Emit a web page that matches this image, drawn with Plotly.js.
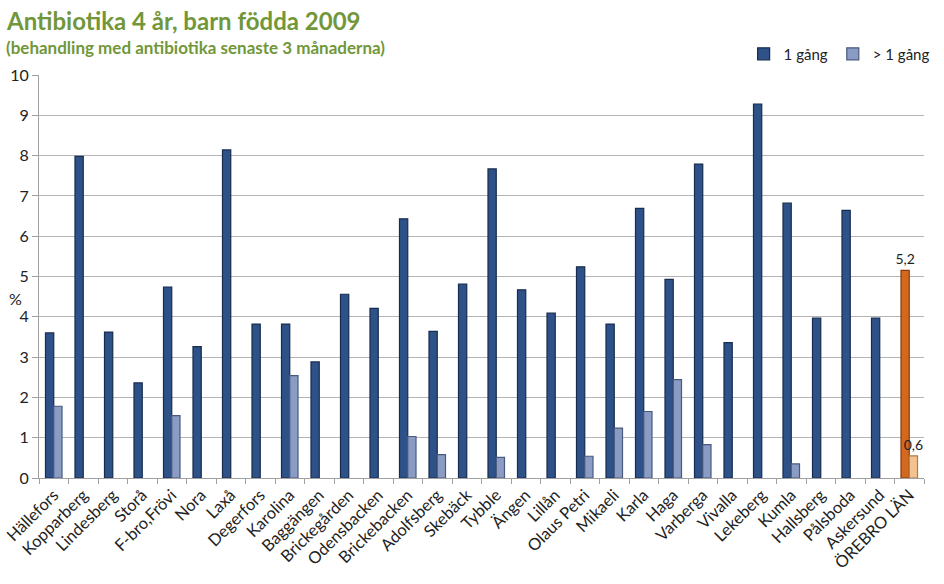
<!DOCTYPE html>
<html><head><meta charset="utf-8">
<script src="https://cdn.plot.ly/plotly-3.0.1.min.js"></script>
<style>html,body{margin:0;padding:0;background:#fff;}#chart{width:944px;height:584px;}</style>
</head><body><div id="chart"></div>
<script>
const categories = ["Hällefors","Kopparberg","Lindesberg","Storå","F-bro,Frövi","Nora","Laxå","Degerfors","Karolina","Baggängen","Brickegården","Odensbacken","Brickebacken","Adolfsberg","Skebäck","Tybble","Ängen","Lillån","Olaus Petri","Mikaeli","Karla","Haga","Varberga","Vivalla","Lekeberg","Kumla","Hallsberg","Pålsboda","Askersund","ÖREBRO LÄN"];
const once = [3.60,7.98,3.62,2.36,4.74,3.26,8.14,3.82,3.82,2.88,4.56,4.21,6.43,3.64,4.81,7.67,4.67,4.09,5.24,3.82,6.69,4.93,7.79,3.36,9.28,6.82,3.97,6.64,3.97,5.15];
const more = [1.78,null,null,null,1.55,null,null,null,2.54,null,null,null,1.03,0.58,null,0.51,null,null,0.54,1.24,1.65,2.44,0.83,null,null,0.35,null,null,null,0.55];
const seriesNames = ["1 gång","> 1 gång"];
const yTicks = [0,1,2,3,4,5,6,7,8,9,10];
const titleText = "Antibiotika 4 år, barn födda 2009";
const subtitleText = "(behandling med antibiotika senaste 3 månaderna)";
</script>
<script>
const last = categories.length - 1;
const fmt = v => v.toFixed(1).replace('.', ',');
const colOnce = categories.map((c,i) => i === last ? '#d2691e' : '#2e5288');
const colMore = categories.map((c,i) => i === last ? '#f2c391' : '#8a9cc4');
const lineOnce = categories.map((c,i) => i === last ? '#8a3a0a' : '#172c4f');
const lineMore = categories.map((c,i) => i === last ? '#b07b45' : '#4a5a7e');
const font = "Lato, 'Open Sans', sans-serif";
const traces = [
  {type:'bar', name:seriesNames[0], x:categories, y:once,
   marker:{color:colOnce, line:{color:lineOnce, width:1.2}},
   text: once.map((v,i)=> i===last ? fmt(v) : ''), textposition:'outside', constraintext:'none',
   textfont:{family:font, size:14, color:'#222'}, cliponaxis:false, hoverinfo:'x+y'},
  {type:'bar', name:seriesNames[1], x:categories, y:more,
   marker:{color:colMore, line:{color:lineMore, width:1.2}},
   text: more.map((v,i)=> i===last ? fmt(v) : ''), textposition:'outside', constraintext:'none',
   textfont:{family:font, size:14, color:'#222'}, cliponaxis:false, hoverinfo:'x+y'}
];
const layout = {
  width:944, height:584,
  margin:{l:39, r:9, t:75, b:106},
  paper_bgcolor:'#fff', plot_bgcolor:'#fff',
  font:{family:font, size:14, color:'#222'},
  barmode:'group', bargap:0.44, bargroupgap:0,
  showlegend:true,
  legend:{orientation:'h', x:1.012, xanchor:'right', y:1.052, yanchor:'middle',
          font:{family:font, size:15, color:'#222'}, traceorder:'normal',
          itemwidth:30, bgcolor:'rgba(0,0,0,0)'},
  xaxis:{type:'category', tickangle:-45, ticks:'outside', tickson:'boundaries', ticklen:5,
         tickcolor:'#a0a0a0', showline:true, linecolor:'#a0a0a0', linewidth:1,
         showgrid:false, tickfont:{family:font, size:16.5, color:'#222'}},
  yaxis:{range:[0,10], tickvals:yTicks, ticks:'outside', ticklen:6, tickcolor:'#a0a0a0',
         showline:true, linecolor:'#a0a0a0', linewidth:1, gridcolor:'#b4b4b4', gridwidth:1,
         zeroline:false, tickfont:{family:font, size:16, color:'#222'}},
  annotations:[
    {text:'%', xref:'paper', yref:'paper', x:-0.0167, y:0.445, xanchor:'right', yanchor:'middle',
     showarrow:false, font:{family:font, size:16, color:'#222'}},
    {text:'<b>'+titleText+'</b>', xref:'paper', yref:'paper', x:-0.039, y:1.136, xanchor:'left', yanchor:'middle',
     showarrow:false, font:{family:font, size:24, color:'#71973a'}},
    {text:'<b>'+subtitleText+'</b>', xref:'paper', yref:'paper', x:-0.039, y:1.069, xanchor:'left', yanchor:'middle',
     showarrow:false, font:{family:font, size:17, color:'#71973a'}}
  ]
};
Plotly.newPlot('chart', traces, layout, {displayModeBar:false});
</script>
</body></html>
